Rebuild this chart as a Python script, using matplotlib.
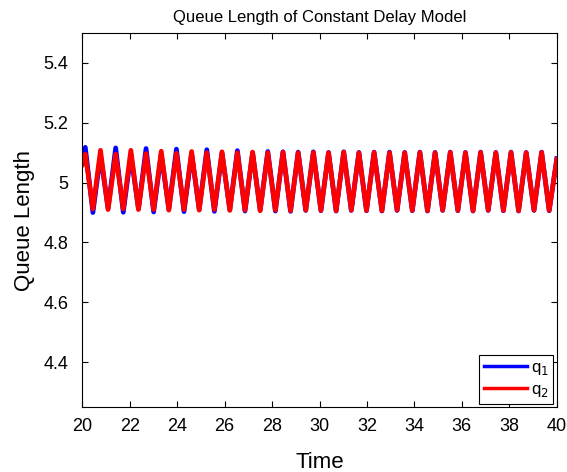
import matplotlib
matplotlib.use("Agg")
import matplotlib.pyplot as plt

plt.rcParams['font.family'] = ['Liberation Sans', 'DejaVu Sans']

# Times of the turning points (start, alternating peak/trough, end)
time = [20.00, 20.13, 20.45, 20.77, 21.09, 21.41, 21.73, 22.05, 22.37, 22.69, 23.01,
        23.33, 23.65, 23.97, 24.29, 24.61, 24.93, 25.25, 25.57, 25.89, 26.22,
        26.54, 26.86, 27.18, 27.50, 27.82, 28.14, 28.46, 28.78, 29.10, 29.42,
        29.74, 30.06, 30.38, 30.70, 31.02, 31.34, 31.66, 31.98, 32.30, 32.63,
        32.95, 33.27, 33.59, 33.91, 34.23, 34.55, 34.87, 35.19, 35.51, 35.83,
        36.15, 36.47, 36.79, 37.11, 37.43, 37.75, 38.07, 38.39, 38.71, 39.04,
        39.36, 39.68, 40.00]

q1 = [5.070, 5.118, 4.900, 5.092, 4.914, 5.116, 4.901, 5.094, 4.913, 5.114, 4.902,
      5.095, 4.912, 5.112, 4.903, 5.097, 4.911, 5.110, 4.904, 5.099, 4.910,
      5.107, 4.905, 5.100, 4.908, 5.104, 4.905, 5.103, 4.904, 5.102, 4.907,
      5.103, 4.906, 5.101, 4.905, 5.103, 4.907, 5.101, 4.906, 5.102, 4.905,
      5.102, 4.907, 5.101, 4.906, 5.102, 4.905, 5.101, 4.907, 5.102, 4.906,
      5.101, 4.905, 5.102, 4.907, 5.101, 4.906, 5.102, 4.905, 5.101, 4.907,
      5.102, 4.906, 5.080]

q2 = [5.060, 5.095, 4.912, 5.108, 4.910, 5.095, 4.912, 5.108, 4.910, 5.097, 4.910,
      5.105, 4.908, 5.098, 4.910, 5.104, 4.908, 5.100, 4.910, 5.103, 4.907,
      5.100, 4.908, 5.102, 4.906, 5.100, 4.908, 5.102, 4.906, 5.100, 4.908,
      5.101, 4.907, 5.100, 4.906, 5.102, 4.908, 5.100, 4.907, 5.101, 4.906,
      5.100, 4.908, 5.100, 4.907, 5.101, 4.906, 5.100, 4.908, 5.101, 4.907,
      5.100, 4.906, 5.101, 4.908, 5.100, 4.907, 5.101, 4.906, 5.100, 4.908,
      5.101, 4.907, 5.078]

xticks = [20, 22, 24, 26, 28, 30, 32, 34, 36, 38, 40]
yticks = [4.4, 4.6, 4.8, 5.0, 5.2, 5.4]
yticklabels = ['4.4', '4.6', '4.8', '5', '5.2', '5.4']

fig = plt.figure(figsize=(5.67, 4.72), dpi=100)
ax = fig.add_axes([0.145, 0.1377, 0.837, 0.7923])

ax.plot(time, q1, color='#0000ff', lw=3.4, label=r'q$_1$')
ax.plot(time, q2, color='#ff0000', lw=3.4, label=r'q$_2$')

ax.set_xlim(20, 40)
ax.set_ylim(4.25, 5.5)
ax.set_xticks(xticks)
ax.set_xticklabels([str(v) for v in xticks])
ax.set_yticks(yticks)
ax.set_yticklabels(yticklabels)
ax.tick_params(direction='in', top=True, right=True, labelsize=13, length=4, width=0.8)
ax.tick_params(axis='y', pad=10)
ax.tick_params(axis='x', pad=8)
for s in ax.spines.values():
    s.set_linewidth(0.8)

ax.set_title('Queue Length of Constant Delay Model', fontsize=12, pad=8)
ax.set_xlabel('Time', fontsize=16, labelpad=12)
ax.set_ylabel('Queue Length', fontsize=16, labelpad=6)

leg = ax.legend(loc='lower right', fontsize=12, handlelength=2.6, handletextpad=0.2,
                borderaxespad=0.2, borderpad=0.3, labelspacing=0.3, fancybox=False,
                framealpha=1, edgecolor='black')
leg.get_frame().set_linewidth(0.8)
for line in leg.get_lines():
    line.set_linewidth(2.5)

fig.savefig('out.png', dpi=100)
